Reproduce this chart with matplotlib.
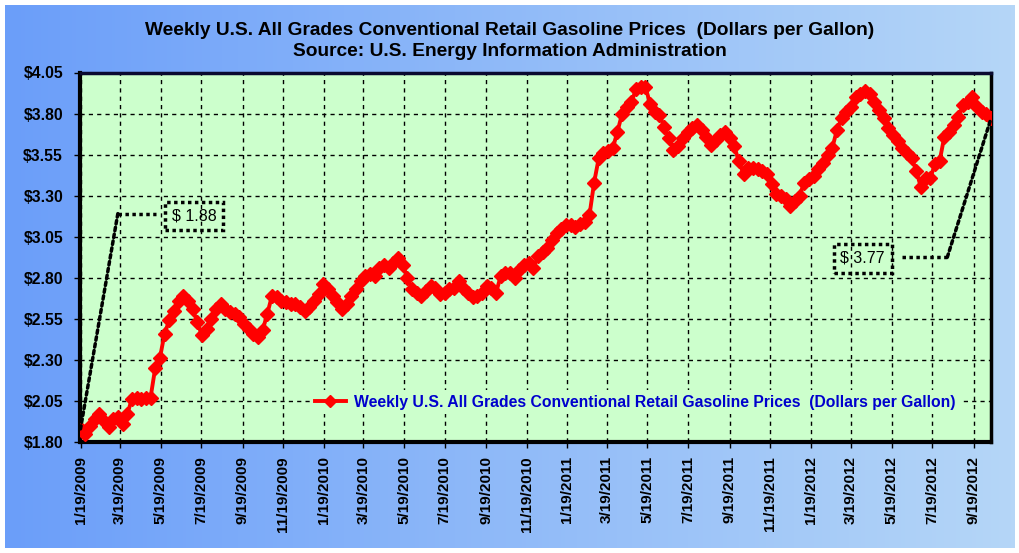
import numpy as np
import pandas as pd
import matplotlib
matplotlib.use('Agg')
import matplotlib.pyplot as plt
import matplotlib.dates as mdates
from matplotlib.ticker import FuncFormatter

plt.rcParams['font.family'] = ['Liberation Sans', 'DejaVu Sans']

# weekly prices, starting 1/19/2009
start_date = '2009-01-19'
prices = [
    1.88, 1.85, 1.90, 1.94, 1.97, 1.93, 1.89, 1.94, 1.95, 1.91,
    1.97, 2.06, 2.07, 2.06, 2.07, 2.07, 2.25, 2.31, 2.46, 2.54,
    2.60, 2.66, 2.69, 2.66, 2.61, 2.53, 2.45, 2.49, 2.55, 2.61,
    2.64, 2.61, 2.59, 2.58, 2.56, 2.52, 2.49, 2.46, 2.44, 2.48,
    2.58, 2.69, 2.68, 2.66, 2.65, 2.64, 2.64, 2.62, 2.60, 2.62,
    2.66, 2.70, 2.76, 2.73, 2.69, 2.65, 2.61, 2.64, 2.69, 2.73,
    2.78, 2.81, 2.82, 2.81, 2.86, 2.88, 2.86, 2.89, 2.92, 2.88,
    2.80, 2.73, 2.71, 2.69, 2.72, 2.75, 2.74, 2.70, 2.71, 2.73,
    2.74, 2.78, 2.74, 2.71, 2.68, 2.69, 2.71, 2.75, 2.74, 2.71,
    2.81, 2.83, 2.83, 2.80, 2.85, 2.88, 2.89, 2.86, 2.93, 2.96,
    2.98, 3.03, 3.07, 3.10, 3.12, 3.12, 3.11, 3.13, 3.14, 3.18,
    3.38, 3.53, 3.56, 3.57, 3.59, 3.69, 3.80, 3.84, 3.87, 3.95,
    3.96, 3.96, 3.86, 3.81, 3.79, 3.72, 3.65, 3.58, 3.60, 3.65,
    3.69, 3.71, 3.73, 3.70, 3.66, 3.61, 3.64, 3.67, 3.69, 3.65,
    3.60, 3.51, 3.43, 3.47, 3.47, 3.46, 3.45, 3.43, 3.37, 3.31,
    3.30, 3.28, 3.24, 3.27, 3.30, 3.38, 3.40, 3.42, 3.46, 3.50,
    3.55, 3.59, 3.70, 3.77, 3.81, 3.84, 3.90, 3.92, 3.94, 3.92,
    3.87, 3.82, 3.77, 3.71, 3.67, 3.63, 3.59, 3.56, 3.53, 3.45,
    3.35, 3.41, 3.41, 3.49, 3.51, 3.66, 3.69, 3.73, 3.78, 3.85,
    3.87, 3.90, 3.84, 3.81, 3.80, 3.77,
]
dates = pd.date_range(start_date, periods=len(prices), freq='7D')

y_ticks = [1.80, 2.05, 2.30, 2.55, 2.80, 3.05, 3.30, 3.55, 3.80, 4.05]
series_label = 'Weekly U.S. All Grades Conventional Retail Gasoline Prices  (Dollars per Gallon)'
title = ('Weekly U.S. All Grades Conventional Retail Gasoline Prices  (Dollars per Gallon)\n'
         'Source: U.S. Energy Information Administration')

fig = plt.figure(figsize=(10.2, 5.53), dpi=100)
fig.patch.set_facecolor('white')

# blue gradient backdrop
bg = fig.add_axes([5 / 1020, 5 / 553, 1010 / 1020, 543 / 553], zorder=0)
grad = np.linspace(0, 1, 256).reshape(1, -1)
c0 = np.array([0.42, 0.62, 0.98])
c1 = np.array([0.71, 0.84, 0.97])
img = c0[None, None, :] * (1 - grad[..., None]) + c1[None, None, :] * grad[..., None]
bg.imshow(img, aspect='auto', extent=(0, 1, 0, 1))
bg.axis('off')

ax = fig.add_axes([80.5 / 1020, 1 - 442 / 553, 910.5 / 1020, 369.5 / 553], zorder=1)
ax.set_facecolor('#CCFFCC')

ax.plot(dates, prices, color='#FF0000', lw=2.8, marker='D', markersize=6.8,
        markeredgecolor='#FF0000', label=series_label, zorder=3)

ax.set_xlim(dates[0], dates[-1])
ax.set_ylim(y_ticks[0], y_ticks[-1])
ax.set_yticks(y_ticks)
ax.yaxis.set_major_formatter(FuncFormatter(lambda v, p: f'${v:.2f}'))
ax.xaxis.set_major_locator(mdates.MonthLocator(bymonth=[1, 3, 5, 7, 9, 11], bymonthday=19))
ax.xaxis.set_major_formatter(FuncFormatter(
    lambda v, p: (lambda d: f'{d.month}/{d.day}/{d.year}')(mdates.num2date(v))))

for lab in ax.get_yticklabels():
    lab.set_fontweight('bold')
    lab.set_fontsize(11.3)
for lab in ax.get_xticklabels():
    lab.set_fontweight('bold')
    lab.set_fontsize(11)
    lab.set_rotation(90)
ax.tick_params(axis='y', direction='out', length=4.5, width=1, color='black', pad=8)
ax.tick_params(axis='x', direction='out', length=4, width=1, color='black', pad=6)

ax.grid(True, color='black', linestyle=(0, (3, 3)), lw=1)
ax.set_axisbelow(True)
ax.spines['left'].set_linewidth(3)
ax.spines['bottom'].set_linewidth(3)
ax.spines['top'].set_linewidth(2.5)
ax.spines['top'].set_color('#0A0A30')
ax.spines['right'].set_linewidth(2.5)

fig.text(0.5, 1 - 41 / 553, title, ha='center', va='center', fontsize=13.8,
         fontweight='bold', linespacing=1.3)

# callouts for first and last price
dot = dict(color='black', lw=2.5, linestyle=(0, (1, 1)))
box = dict(boxstyle='square,pad=0.42', fc='none', ec='black', lw=2.5, linestyle=(0, (1, 1)))

ax.annotate('', xy=(dates[0], prices[0]), xycoords='data',
            xytext=(0.041, 0.618), textcoords='axes fraction',
            arrowprops=dict(arrowstyle='-', shrinkA=0, shrinkB=0, **dot))
ax.plot([0.041, 0.083], [0.618, 0.618], transform=ax.transAxes, **dot)
ax.text(0.125, 0.611, f'$ {prices[0]:.2f}', transform=ax.transAxes, ha='center', va='center',
        fontsize=11.5, bbox=box)

ax.annotate('', xy=(dates[-1], prices[-1]), xycoords='data',
            xytext=(0.952, 0.5), textcoords='axes fraction',
            arrowprops=dict(arrowstyle='-', shrinkA=0, shrinkB=0, **dot))
ax.plot([0.902, 0.952], [0.5, 0.5], transform=ax.transAxes, **dot)
ax.text(0.859, 0.497, f'$ {prices[-1]:.2f}', transform=ax.transAxes, ha='center', va='center',
        fontsize=11.5, bbox=box)

leg = ax.legend(loc='center', bbox_to_anchor=(0.609, 0.108), frameon=True, numpoints=1,
                handlelength=2.0, handletextpad=0.5, borderpad=0.3, fancybox=False,
                prop={'weight': 'bold', 'size': 11.3})
leg.get_frame().set_facecolor('#CCFFCC')
leg.get_frame().set_edgecolor('none')
leg.get_frame().set_alpha(1)
for t in leg.get_texts():
    t.set_color('#0000CC')
for h in leg.legend_handles:
    h.set_markersize(6)

fig.savefig('out.png', dpi=100)
